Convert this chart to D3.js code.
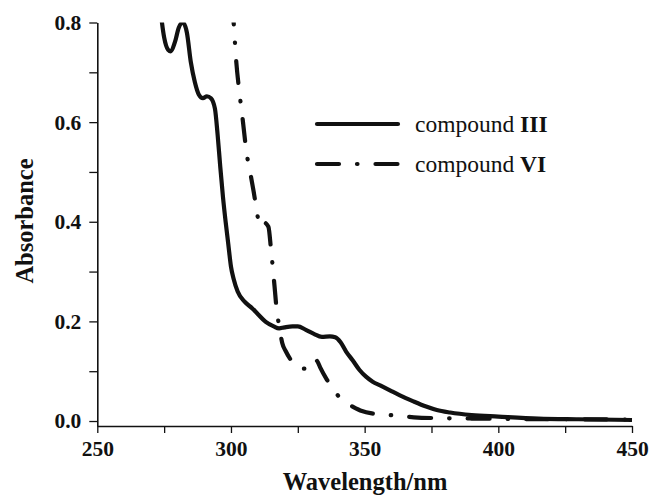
<!DOCTYPE html>
<html lang="en">
<head>
<meta charset="utf-8">
<title>UV-Vis absorbance</title>
<script src="https://cdn.jsdelivr.net/npm/d3@7"></script>
<style>
  body { margin: 0; background: #fff; }
  svg text { font-family: "Liberation Serif", "Times New Roman", serif; fill: #111; }
</style>
</head>
<body>
<div id="chart"></div>
<script>
// wavelength (nm) / absorbance
var wlIII  = [273.5, 275, 276.5, 277.5, 279, 280.5, 282, 283.5, 285, 286.5, 288, 289.5, 291, 292.5, 294, 295, 296, 297, 298, 299, 300, 301, 302.5, 305, 308, 310, 313, 316, 318, 320, 323, 325, 328, 331, 334, 337, 339, 341, 343, 345.5, 348, 350.5, 353, 356, 360, 363, 368, 373, 377, 382, 390, 400, 415, 430, 450];
var absIII = [0.83, 0.77, 0.745, 0.742, 0.76, 0.79, 0.80, 0.78, 0.72, 0.68, 0.655, 0.648, 0.652, 0.648, 0.627, 0.575, 0.51, 0.45, 0.40, 0.355, 0.31, 0.285, 0.26, 0.24, 0.226, 0.215, 0.199, 0.19, 0.186, 0.188, 0.19, 0.19, 0.183, 0.175, 0.169, 0.17, 0.168, 0.158, 0.14, 0.122, 0.103, 0.089, 0.079, 0.071, 0.06, 0.052, 0.04, 0.029, 0.022, 0.017, 0.012, 0.009, 0.005, 0.0035, 0.002];

var wlVI  = [300.5, 301, 302, 303.2, 304.5, 305.7, 307.5, 308.5, 309.7, 310.8, 312.5, 314, 315, 316.3, 317.1, 318.1, 319.2, 320.5, 322.5, 325.6, 327.5, 329.5, 331.2, 332.5, 333.5, 336, 339.3, 342, 345.5, 349, 353, 361.5, 368.4, 375, 390, 410, 430, 450];
var absVI = [0.84, 0.80, 0.72, 0.658, 0.60, 0.544, 0.49, 0.46, 0.42, 0.39, 0.398, 0.39, 0.343, 0.27, 0.223, 0.189, 0.156, 0.14, 0.122, 0.106, 0.105, 0.115, 0.125, 0.118, 0.106, 0.082, 0.056, 0.04, 0.029, 0.02, 0.015, 0.011, 0.0075, 0.006, 0.005, 0.004, 0.0035, 0.003];

var xTicks = [250, 275, 300, 325, 350, 375, 400, 425, 450];
var yTicks = [0, 0.1, 0.2, 0.3, 0.4, 0.5, 0.6, 0.7, 0.8];
var seriesNames = ["III", "VI"];

var W = 651, H = 495;
var margin = {top: 22.5, right: 19, bottom: 69, left: 97.3};
var width = W - margin.left - margin.right,
    height = H - margin.top - margin.bottom;

var svg = d3.select("#chart").append("svg")
    .attr("width", W)
    .attr("height", H);

var g = svg.append("g")
    .attr("transform", "translate(" + margin.left + "," + margin.top + ")");

var x = d3.scaleLinear().domain([250, 450]).range([0, width]);
var y = d3.scaleLinear().domain([-0.01, 0.8]).range([height, 0]);

// clip curves to the plot box
g.append("clipPath").attr("id", "plot-clip")
  .append("rect").attr("x", 0).attr("y", 0).attr("width", width + 4).attr("height", height);

// x axis
var xAxis = g.append("g")
    .attr("transform", "translate(0," + height + ")")
    .call(d3.axisBottom(x)
      .tickValues(xTicks)
      .tickSize(7)
      .tickSizeOuter(0)
      .tickPadding(8)
      .tickFormat(function(d) { return d % 50 === 0 ? d : ""; }));

// y axis
var yAxis = g.append("g")
    .call(d3.axisLeft(y)
      .tickValues(yTicks)
      .tickSize(8)
      .tickSizeOuter(0)
      .tickPadding(8)
      .tickFormat(function(d) { return Math.round(d * 10) % 2 === 0 ? d3.format(".1f")(d) : ""; }));

[xAxis, yAxis].forEach(function(a) {
  a.select(".domain").attr("stroke", "#111").attr("stroke-width", 1.6);
  a.selectAll(".tick line").attr("stroke", "#111").attr("stroke-width", 1.3);
  a.selectAll(".tick text")
    .style("font-family", "'Liberation Serif', 'Times New Roman', serif")
    .style("font-weight", "bold")
    .style("font-size", "21.5px")
    .attr("fill", "#111");
});

// axis titles
svg.append("text")
    .attr("x", 365)
    .attr("y", 490)
    .attr("text-anchor", "middle")
    .style("font-weight", "bold")
    .style("font-size", "24.5px")
    .text("Wavelength/nm");

svg.append("text")
    .attr("transform", "translate(33,221)rotate(-90)")
    .attr("text-anchor", "middle")
    .style("font-weight", "bold")
    .style("font-size", "24.5px")
    .text("Absorbance");

// curves
var line = d3.line()
    .x(function(d) { return x(d[0]); })
    .y(function(d) { return y(d[1]); })
    .curve(d3.curveMonotoneX);

var dataIII = d3.zip(wlIII, absIII);
var dataVI = d3.zip(wlVI, absVI);
var dashVI = "22,18,0.5,18";

var plot = g.append("g").attr("clip-path", "url(#plot-clip)");

plot.append("path")
    .datum(dataIII)
    .attr("d", line)
    .attr("fill", "none")
    .attr("stroke", "#111")
    .attr("stroke-width", 4.2)
    .attr("stroke-linejoin", "round");

plot.append("path")
    .datum(dataVI)
    .attr("d", line)
    .attr("fill", "none")
    .attr("stroke", "#111")
    .attr("stroke-width", 4.2)
    .attr("stroke-linecap", "round")
    .attr("stroke-dasharray", dashVI);

// legend
var legend = svg.append("g");
seriesNames.forEach(function(name, i) {
  var ly = 124 + i * 40;
  legend.append("line")
      .attr("x1", 317).attr("x2", 398)
      .attr("y1", ly).attr("y2", ly)
      .attr("stroke", "#111")
      .attr("stroke-width", 4.2)
      .attr("stroke-linecap", "round")
      .attr("stroke-dasharray", i === 0 ? null : dashVI);
  var t = legend.append("text")
      .attr("x", 415)
      .attr("y", ly + 7.7)
      .style("font-size", "23.5px");
  t.append("tspan").text("compound ");
  t.append("tspan").style("font-weight", "bold").text(name);
});
</script>
</body>
</html>
